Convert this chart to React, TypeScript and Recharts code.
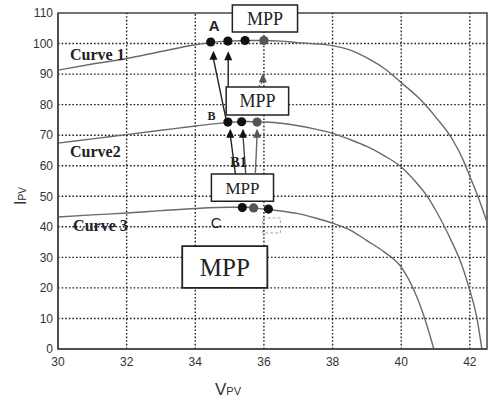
import {
  ComposedChart,
  Line,
  Scatter,
  XAxis,
  YAxis,
  ReferenceArea,
  ReferenceLine,
  ReferenceDot,
  Label,
} from "recharts";

const VOLT_TICKS = [30, 32, 34, 36, 38, 40, 42];
const CURRENT_TICKS = [0, 10, 20, 30, 40, 50, 60, 70, 80, 90, 100, 110];
const V_MAX = 42.5;
const I_MAX = 110;

// I-V curves (v = Vpv, i = Ipv)
const curve1 = [
  { v: 30, i: 91.3 }, { v: 31, i: 93.3 }, { v: 32, i: 95.1 }, { v: 33, i: 97.4 },
  { v: 34, i: 99.6 }, { v: 34.5, i: 100.4 }, { v: 35, i: 100.8 }, { v: 35.5, i: 101 },
  { v: 36, i: 101 }, { v: 36.5, i: 100.8 }, { v: 37, i: 100.3 }, { v: 37.5, i: 99.9 },
  { v: 38, i: 99.3 }, { v: 38.5, i: 97.9 }, { v: 39, i: 95.3 }, { v: 39.5, i: 91.9 },
  { v: 40, i: 87.2 }, { v: 40.5, i: 82.3 }, { v: 41, i: 76 }, { v: 41.5, i: 68.5 },
  { v: 41.8, i: 62 }, { v: 42, i: 56.5 }, { v: 42.25, i: 49.5 }, { v: 42.5, i: 41.5 },
];

const curve2 = [
  { v: 30, i: 67.4 }, { v: 31, i: 68.8 }, { v: 32, i: 70.2 }, { v: 33, i: 71.6 },
  { v: 34, i: 73 }, { v: 35, i: 74.2 }, { v: 35.5, i: 74.5 }, { v: 36, i: 74.3 },
  { v: 36.5, i: 73.9 }, { v: 37, i: 73.1 }, { v: 37.5, i: 72 }, { v: 38, i: 70.6 },
  { v: 38.5, i: 68.6 }, { v: 39, i: 66.3 }, { v: 39.5, i: 63.3 }, { v: 40, i: 59.6 },
  { v: 40.4, i: 55 }, { v: 40.77, i: 49.8 }, { v: 41, i: 45.5 }, { v: 41.24, i: 40.5 },
  { v: 41.5, i: 34.5 }, { v: 41.68, i: 30 }, { v: 41.97, i: 20.3 }, { v: 42.2, i: 10.5 },
  { v: 42.35, i: 0 },
];

const curve3 = [
  { v: 30, i: 43.2 }, { v: 31, i: 43.9 }, { v: 32, i: 44.5 }, { v: 33, i: 45.3 },
  { v: 34, i: 46 }, { v: 35, i: 46.4 }, { v: 35.5, i: 46.4 }, { v: 36, i: 45.8 },
  { v: 36.5, i: 45.2 }, { v: 37, i: 44.3 }, { v: 37.5, i: 42.9 }, { v: 38, i: 41.2 },
  { v: 38.5, i: 39 }, { v: 39, i: 35.5 }, { v: 39.5, i: 31.8 }, { v: 40, i: 26.8 },
  { v: 40.37, i: 19.3 }, { v: 40.7, i: 9.5 }, { v: 40.95, i: 0 },
];

// operating points on each curve
const dotsBlack = [
  { v: 34.45, i: 100.5 }, { v: 34.95, i: 100.8 }, { v: 35.45, i: 101 },
  { v: 34.95, i: 74.3 }, { v: 35.35, i: 74.4 },
  { v: 35.37, i: 46.3 }, { v: 36.13, i: 45.8 },
];
const dotsGray = [
  { v: 36.0, i: 101 }, { v: 35.8, i: 74.3 }, { v: 35.7, i: 46.2 },
];
const arrowHeadsBlack = [
  { v: 34.53, i: 96 }, { v: 34.96, i: 95.8 },
  { v: 35.02, i: 70.5 }, { v: 35.39, i: 70.5 },
];
const arrowHeadsGray = [
  { v: 35.97, i: 88.6 }, { v: 35.8, i: 70.5 },
];

// "MPP" annotation boxes (data units)
const mppBoxes = [
  { x1: 35.08, x2: 36.98, y1: 103.8, y2: 112.6, size: 18 },
  { x1: 34.9, x2: 36.72, y1: 76.6, y2: 85.8, size: 18 },
  { x1: 34.47, x2: 36.28, y1: 48.4, y2: 57.3, size: 17 },
  { x1: 33.62, x2: 36.1, y1: 20, y2: 33.7, size: 25 },
];

const LINE_COLOR = "#6a6a6a";
const INK = "#222";
const SERIF = "'Liberation Serif', 'Times New Roman', serif";
const SANS = "'Liberation Sans', Arial, sans-serif";

// split a grid line so it does not run through the white MPP boxes
function splitRange(lo: number, hi: number, cuts: [number, number][]) {
  const segs: [number, number][] = [];
  let start = lo;
  cuts
    .slice()
    .sort((a, b) => a[0] - b[0])
    .forEach(([a, b]) => {
      if (a > start) segs.push([start, Math.min(a, hi)]);
      start = Math.max(start, b);
    });
  if (start < hi) segs.push([start, hi]);
  return segs;
}

const Dot = (fill: string) => (p: any) => (
  <circle cx={p.cx} cy={p.cy} r={4.6} fill={fill} />
);
const Tri = (fill: string) => (p: any) => (
  <polygon
    points={`${p.cx},${p.cy - 5} ${p.cx - 4},${p.cy + 4} ${p.cx + 4},${p.cy + 4}`}
    fill={fill}
  />
);

const txt =
  (value: string, size: number, family: string, anchor = "middle", weight = "bold") =>
  (p: any) => (
    <text
      x={p.cx}
      y={p.cy}
      dy="0.35em"
      textAnchor={anchor}
      fontSize={size}
      fontFamily={family}
      fontWeight={weight}
      fill={INK}
    >
      {value}
    </text>
  );

export default function App() {
  // dotted grid at every tick, broken around the boxes, drawn as plain line series
  const vGrid = VOLT_TICKS.slice(1).flatMap((t) =>
    splitRange(
      0,
      I_MAX,
      mppBoxes.filter((b) => b.x1 < t && t < b.x2).map((b) => [b.y1, b.y2] as [number, number])
    ).map(([a, b]) => ({ key: `gx${t}-${a}`, pts: [{ v: t, i: a }, { v: t, i: b }] }))
  );
  const hGrid = CURRENT_TICKS.slice(1, -1).flatMap((t) =>
    splitRange(
      30,
      V_MAX,
      mppBoxes.filter((b) => b.y1 < t && t < b.y2).map((b) => [b.x1, b.x2] as [number, number])
    ).map(([a, b]) => ({ key: `gy${t}-${a}`, pts: [{ v: a, i: t }, { v: b, i: t }] }))
  );

  return (
    <div style={{ position: "absolute", left: 0, top: 0, background: "#fff" }}>
      <ComposedChart
        width={491}
        height={403}
        margin={{ top: 13, right: 4, left: 0, bottom: 0 }}
      >
        <XAxis
          type="number"
          dataKey="v"
          domain={[30, V_MAX]}
          ticks={VOLT_TICKS}
          allowDataOverflow
          height={54}
          tickLine={false}
          tickSize={6}
          tickMargin={2}
          axisLine={{ stroke: "#444", strokeWidth: 1.5 }}
          tick={{ fontSize: 12, fill: "#333", fontFamily: SANS }}
        >
          <Label
            content={() => (
              <text x={215} y={395} fill="#333" fontFamily={SANS} fontSize={17}>
                V<tspan fontSize={11}>PV</tspan>
              </text>
            )}
          />
        </XAxis>
        <YAxis
          type="number"
          dataKey="i"
          domain={[0, I_MAX]}
          ticks={CURRENT_TICKS}
          allowDataOverflow
          width={58}
          tickLine={false}
          tickSize={4}
          tickMargin={1}
          axisLine={{ stroke: "#444", strokeWidth: 1.5 }}
          tick={{ fontSize: 12, fill: "#333", fontFamily: SANS }}
        >
          <Label
            content={() => (
              <text
                x={20}
                y={196}
                transform="rotate(-90, 20, 196)"
                textAnchor="middle"
                fill="#333"
                fontFamily={SANS}
                fontSize={16}
                dy="0.35em"
              >
                I<tspan fontSize={10}>PV</tspan>
              </text>
            )}
          />
        </YAxis>

        {[...vGrid, ...hGrid].map((g) => (
          <Line
            key={g.key}
            data={g.pts}
            dataKey="i"
            type="linear"
            stroke="#222"
            strokeWidth={1.4}
            strokeDasharray="1.6 2"
            dot={false}
            activeDot={false}
            isAnimationActive={false}
          />
        ))}

        {/* plot frame */}
        <ReferenceArea x1={30} x2={V_MAX} y1={0} y2={I_MAX} fill="none" stroke="#444" strokeWidth={1.5} />

        {/* MPP boxes */}
        {mppBoxes.map((b, k) => (
          <ReferenceArea
            key={`mpp${k}`}
            x1={b.x1}
            x2={b.x2}
            y1={b.y1}
            y2={b.y2}
            ifOverflow="visible"
            fill="#fff"
            fillOpacity={1}
            stroke={INK}
            strokeWidth={k === 3 ? 1.8 : 1.5}
            label={{ value: "MPP", position: "center", fontSize: b.size, fontFamily: SERIF, fill: INK }}
          />
        ))}
        <ReferenceArea x1={35.96} x2={36.48} y1={38} y2={42.9} fill="none" stroke="#aaa" strokeDasharray="3 2" />

        <Line data={curve1} dataKey="i" type="monotone" stroke={LINE_COLOR} strokeWidth={1.4} dot={false} isAnimationActive={false} />
        <Line data={curve2} dataKey="i" type="monotone" stroke={LINE_COLOR} strokeWidth={1.4} dot={false} isAnimationActive={false} />
        <Line data={curve3} dataKey="i" type="monotone" stroke={LINE_COLOR} strokeWidth={1.4} dot={false} isAnimationActive={false} />

        {/* tracking arrows */}
        <ReferenceLine segment={[{ x: 34.9, y: 75 }, { x: 34.53, y: 95 }]} stroke="#222" strokeWidth={1.4} />
        <ReferenceLine segment={[{ x: 34.96, y: 85.8 }, { x: 34.96, y: 95 }]} stroke="#222" strokeWidth={1.4} />
        <ReferenceLine segment={[{ x: 35.85, y: 85.8 }, { x: 35.97, y: 88 }]} stroke="#555" strokeWidth={1.4} strokeDasharray="2 2" />
        <ReferenceLine segment={[{ x: 35.17, y: 57.3 }, { x: 35.02, y: 70 }]} stroke="#222" strokeWidth={1.4} />
        <ReferenceLine segment={[{ x: 35.47, y: 57.3 }, { x: 35.39, y: 70 }]} stroke="#444" strokeWidth={1.4} />
        <ReferenceLine segment={[{ x: 35.75, y: 57.3 }, { x: 35.8, y: 70 }]} stroke="#666" strokeWidth={1.4} />

        <Scatter data={dotsBlack} dataKey="i" shape={Dot("#111")} isAnimationActive={false} />
        <Scatter data={dotsGray} dataKey="i" shape={Dot("#555")} isAnimationActive={false} />
        <Scatter data={arrowHeadsBlack} dataKey="i" shape={Tri("#111")} isAnimationActive={false} />
        <Scatter data={arrowHeadsGray} dataKey="i" shape={Tri("#555")} isAnimationActive={false} />

        {/* text annotations */}
        <ReferenceDot x={34.55} y={105.7} r={0} shape={txt("A", 15, SANS)} />
        <ReferenceDot x={34.47} y={76.3} r={0} shape={txt("B", 12, SERIF)} />
        <ReferenceDot x={35.26} y={61.2} r={0} shape={txt("B1", 14, SERIF)} />
        <ReferenceDot x={34.61} y={41.2} r={0} shape={txt("C", 15, SANS, "middle", "normal")} />
        <ReferenceDot x={30.35} y={96.6} r={0} shape={txt("Curve 1", 16, SERIF, "start")} />
        <ReferenceDot x={30.35} y={64.8} r={0} shape={txt("Curve2", 16, SERIF, "start")} />
        <ReferenceDot x={30.44} y={40.6} r={0} shape={txt("Curve 3", 16, SERIF, "start")} />
      </ComposedChart>
    </div>
  );
}
